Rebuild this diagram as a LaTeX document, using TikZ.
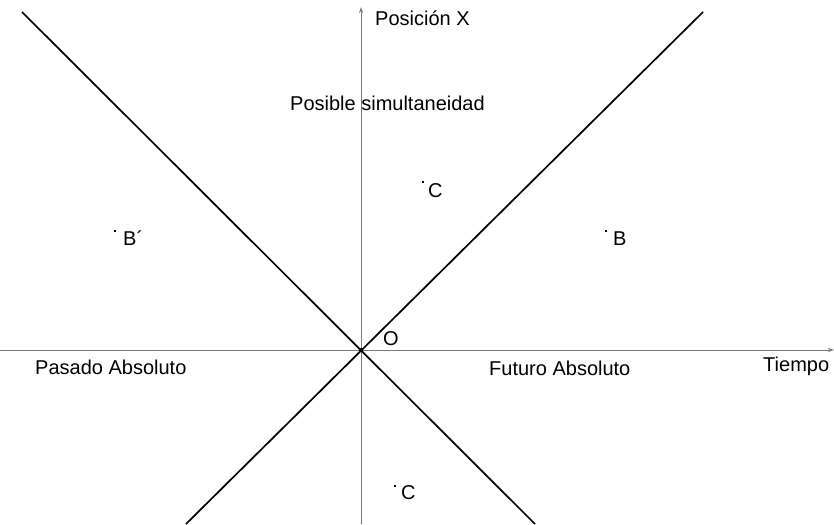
\documentclass[tikz,border=0pt]{standalone}
\usepackage{fontspec}
\setmainfont{Liberation Sans}
\usepackage{tikz}
\usetikzlibrary{arrows.meta}
\definecolor{axisgrey}{HTML}{7A7A7A}

\begin{document}
\begin{tikzpicture}[x=1pt,y=-1pt,
  ax/.style={draw=axisgrey,line width=1pt,-{Stealth[length=6pt,width=4pt]}},
  cone/.style={draw=black,line width=1.7pt},
  pt/.style={rectangle,fill=black,inner sep=0pt,minimum size=2.6pt},
  lb/.style={font=\fontsize{20}{24}\selectfont,inner sep=0pt,anchor=base west}
]
\useasboundingbox (0,0) rectangle (834,524);
\coordinate (o) at (361,350);
\coordinate (xbot) at (361,524);
\coordinate (xtop) at (361,7);
\coordinate (tleft) at (0,350);
\coordinate (tright) at (834,350);
\coordinate (pastup) at (22,12);
\coordinate (futdown) at (535,524);
\coordinate (futup) at (703,12);
\coordinate (pastdown) at (186,524);

\draw[ax] (tleft) -- (tright);
\draw[ax] (xbot) -- (xtop);
\draw[cone] (pastup) -- (futdown);
\draw[cone] (futup) -- (pastdown);
\node[pt,minimum size=4.5pt] (orig) at (o) {};

\node[lb] (xlab) at (375,26) {Posición X};
\node[lb] (tlab) at (763,371) {Tiempo};
\node[lb] (olab) at (383,345) {O};
\node[lb] (sim) at (290,110.5) {Posible simultaneidad};
\node[lb] (past) at (35,374) {Pasado Absoluto};
\node[lb] (fut) at (489,375) {Futuro Absoluto};

\node[pt] (c) at (423,182) {};
\node[lb] (clab) at (428,197) {C};
\node[pt] (bp) at (115,231) {};
\node[lb] (bplab) at (123,245) {B´};
\node[pt] (b) at (606,231) {};
\node[lb] (blab) at (613,245) {B};
\node[pt] (cc) at (395,486) {};
\node[lb] (cclab) at (401,499) {C};
\end{tikzpicture}
\end{document}
